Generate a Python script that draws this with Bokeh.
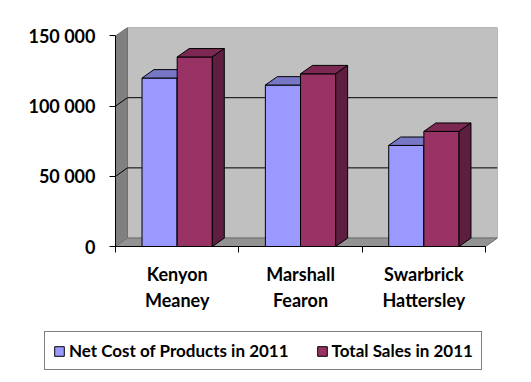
from bokeh.plotting import figure
from bokeh.models import FixedTicker, Legend, LegendItem, Range1d
from bokeh.embed import file_html
from bokeh.resources import INLINE

# ---- data ----
categories = ["Kenyon\nMeaney", "Marshall\nFearon", "Swarbrick\nHattersley"]
series_names = ["Net Cost of Products in 2011", "Total Sales in 2011"]
net_cost = [120000, 115000, 72000]
total_sales = [135000, 123000, 82000]
y_ticks = [0, 50000, 100000, 150000]

# ---- style / layout ----
DX = 0.097        # 3D depth in category units
DY = 6000         # 3D depth in value units
BW = 0.285        # bar width (category units)
FONT = "Lato"
FRONT = ["#9999FF", "#993366"]
TOP = ["#7777C6", "#7B2852"]
SIDE = ["#6666AA", "#5E1E40"]

n = len(categories)
ymax = y_ticks[-1]

PLOT_W = 370      # px for the category axis (0..n)
PLOT_H = 219      # px for value axis 0..ymax+DY
LEFT_PX = 105     # px of extra room left of the value axis (tick labels, legend)
BOTTOM_PX = 128   # px of extra room below the category axis (labels, legend)
px_x = n / PLOT_W
px_y = (ymax + DY) / PLOT_H
x0 = -LEFT_PX * px_x
y0 = -BOTTOM_PX * px_y

p = figure(frame_width=LEFT_PX + int(round((n + DX) / px_x)), frame_height=PLOT_H + BOTTOM_PX,
           output_backend="svg", toolbar_location=None,
           x_range=Range1d(x0, n + DX), y_range=Range1d(y0, ymax + DY),
           min_border_left=10, min_border_right=27, min_border_top=27,
           min_border_bottom=0)
p.outline_line_color = None
p.grid.visible = False
p.background_fill_color = "white"

# walls
p.patch([DX, n + DX, n + DX, DX], [DY, DY, ymax + DY, ymax + DY],
        fill_color="#C0C0C0", line_color="#808080", line_width=1)
p.patch([0, DX, DX, 0], [0, DY, ymax + DY, ymax],
        fill_color="#808080", line_color="#707070", line_width=1)
p.patch([0, n, n + DX, DX], [0, 0, DY, DY],
        fill_color="#939393", line_color="#707070", line_width=1)

# gridlines on back and side walls
gx, gy = [], []
for t in y_ticks[1:-1]:
    gx.append([0, DX, n + DX]); gy.append([t, t + DY, t + DY])
p.multi_line(gx, gy, line_color="black", line_width=1)

# bars
renderers = []
for s, vals in enumerate([net_cost, total_sales]):
    lefts = [i + 0.5 - BW + s * BW for i in range(n)]
    rights = [l + BW for l in lefts]
    r = p.quad(left=lefts, right=rights, bottom=0, top=vals,
               fill_color=FRONT[s], line_color="black", line_width=1)
    renderers.append(r)
    p.patches([[l, rr, rr + DX, l + DX] for l, rr in zip(lefts, rights)],
              [[v, v, v + DY, v + DY] for v in vals],
              fill_color=TOP[s], line_color="black", line_width=1)
    p.patches([[rr, rr + DX, rr + DX, rr] for rr in rights],
              [[0, DY, v + DY, v] for v in vals],
              fill_color=SIDE[s], line_color="black", line_width=1)

# axes
yax = p.yaxis[0]
yax.fixed_location = 0
yax.ticker = FixedTicker(ticks=y_ticks)
yax.major_label_overrides = {t: f"{t:,}".replace(",", " ") for t in y_ticks}
yax.bounds = (0, ymax)
yax.major_tick_in = 0
yax.major_tick_out = 6
yax.minor_tick_line_color = None
yax.axis_line_color = "black"
yax.major_label_standoff = 14
yax.major_label_text_font = FONT
yax.major_label_text_font_style = "bold"
yax.major_label_text_font_size = "18px"
yax.major_label_text_color = "black"

xax = p.xaxis[0]
xax.fixed_location = 0
xax.ticker = FixedTicker(ticks=[i + 0.5 for i in range(n)],
                         minor_ticks=list(range(n + 1)))
xax.major_label_overrides = {i + 0.5: c for i, c in enumerate(categories)}
xax.bounds = (0, n)
xax.major_tick_line_color = None
xax.major_tick_in = 0
xax.major_tick_out = 0
xax.minor_tick_in = 0
xax.minor_tick_out = 6
xax.minor_tick_line_color = "black"
xax.axis_line_color = "black"
xax.major_label_standoff = 10
xax.major_label_text_font = FONT
xax.major_label_text_font_style = "bold"
xax.major_label_text_font_size = "18px"
xax.major_label_text_color = "black"
xax.major_label_text_line_height = 1.2

legend = Legend(items=[LegendItem(label=series_names[i], renderers=[renderers[i]]) for i in range(2)],
                orientation="horizontal", location=(34, 4),
                glyph_width=12, glyph_height=12, label_standoff=4, spacing=27,
                padding=8, margin=0,
                label_text_font=FONT, label_text_font_style="bold",
                label_text_font_size="17px", label_text_color="black",
                border_line_color="black", border_line_width=1,
                background_fill_color="white")
p.add_layout(legend, "center")

open("out.html", "w").write(file_html(p, INLINE))
